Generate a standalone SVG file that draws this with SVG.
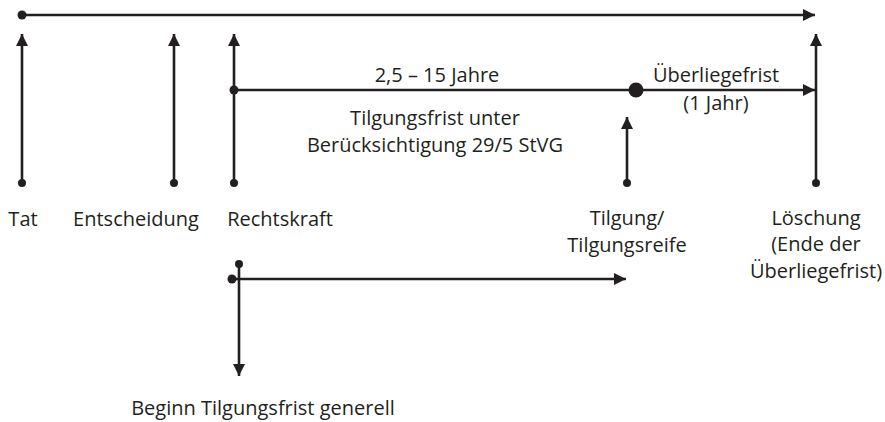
<svg xmlns="http://www.w3.org/2000/svg" width="885" height="422" viewBox="0 0 885 422">
<defs>
<marker id="ah" viewBox="0 0 12 12" refX="12" refY="6" markerWidth="12" markerHeight="12" markerUnits="userSpaceOnUse" orient="auto">
<path d="M0,0 L12,6 L0,12 Z" fill="#231f20"/>
</marker>
</defs>
<style>
.ln{stroke:#231f20;stroke-width:2.6;fill:none}
.ar{marker-end:url(#ah)}
.dot{fill:#231f20}
text{font-family:"Open Sans","Noto Sans","Liberation Sans",sans-serif;font-size:20px;fill:#231f20}
.c{text-anchor:middle}
</style>
<rect width="885" height="422" fill="#fff"/>
<g id="connectors">
<line class="ln ar" x1="22" y1="15" x2="815" y2="15"/>
<circle class="dot" cx="22" cy="15" r="4.5"/>
<line class="ln ar" x1="22" y1="183" x2="22" y2="34"/>
<circle class="dot" cx="22" cy="183" r="4"/>
<line class="ln ar" x1="174" y1="183" x2="174" y2="34"/>
<circle class="dot" cx="174" cy="183" r="4"/>
<line class="ln ar" x1="234" y1="183" x2="234" y2="34"/>
<circle class="dot" cx="234" cy="183" r="4"/>
<line class="ln ar" x1="816" y1="183" x2="816" y2="34"/>
<circle class="dot" cx="816" cy="183" r="4"/>
<line class="ln ar" x1="627" y1="183" x2="627" y2="117"/>
<circle class="dot" cx="627" cy="183" r="4"/>
<line class="ln ar" x1="234" y1="90" x2="815" y2="90"/>
<circle class="dot" cx="234" cy="90" r="4.5"/>
<circle class="dot" cx="636" cy="90" r="7.5"/>
<line class="ln ar" x1="239" y1="264" x2="239" y2="376"/>
<circle class="dot" cx="239" cy="264" r="4"/>
<line class="ln ar" x1="232" y1="279" x2="626" y2="279"/>
<circle class="dot" cx="232" cy="279" r="4.5"/>
</g>
<g id="tat"><text x="23" y="226" class="c">Tat</text></g>
<g id="entscheidung"><text x="136" y="226" class="c">Entscheidung</text></g>
<g id="rechtskraft"><text x="280" y="226" class="c">Rechtskraft</text></g>
<g id="tilgung"><text x="627" y="225" class="c">Tilgung/</text><text x="627" y="252" class="c">Tilgungsreife</text></g>
<g id="loeschung"><text x="816" y="225" class="c">Löschung</text><text x="816" y="251" class="c">(Ende der</text><text x="816" y="278" class="c">Überliegefrist)</text></g>
<g id="frist"><text x="437" y="82" class="c">2,5 – 15 Jahre</text><text x="435" y="125" class="c">Tilgungsfrist unter</text><text x="435" y="152" class="c">Berücksichtigung 29/5 StVG</text></g>
<g id="ueberliege"><text x="716" y="82" class="c">Überliegefrist</text><text x="716" y="110" class="c">(1 Jahr)</text></g>
<g id="beginn"><text x="263" y="415" class="c">Beginn Tilgungsfrist generell</text></g>
</svg>
